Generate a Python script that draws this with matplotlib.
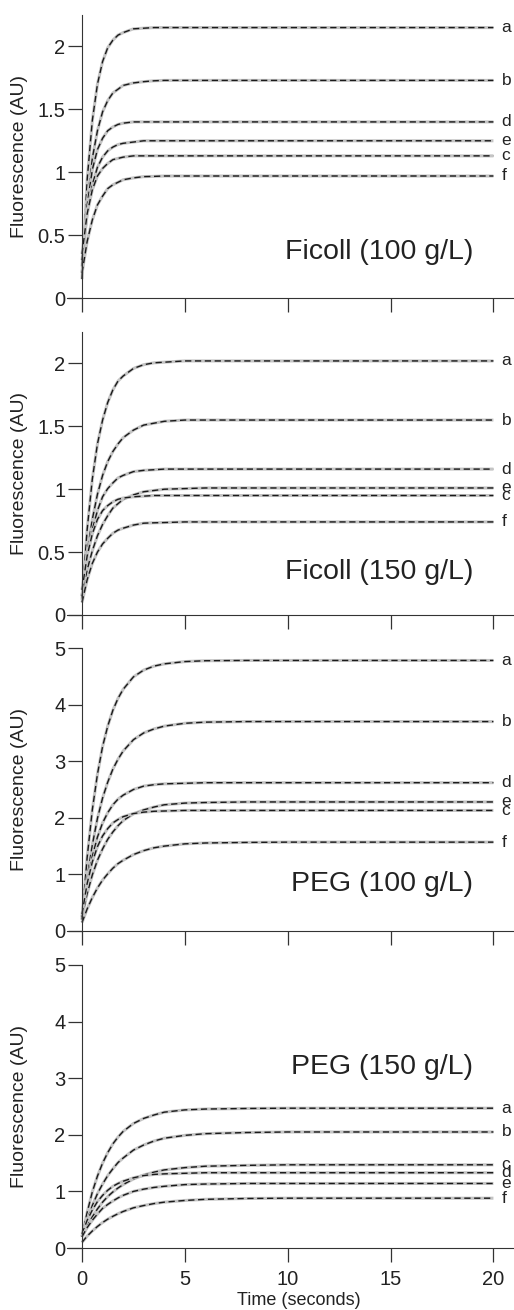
import numpy as np
import matplotlib.pyplot as plt

plt.rcParams['font.family'] = ['Liberation Sans', 'DejaVu Sans']

# sample times (s)
t = [0, 0.25, 0.5, 0.75, 1, 1.25, 1.5, 1.75, 2, 2.5, 3, 3.5, 4, 5, 6, 8, 10, 15, 20]

names = ['a', 'b', 'd', 'e', 'c', 'f']

# Ficoll 100 g/L
ficoll100 = [
    [0.15, 0.94, 1.41, 1.70, 1.88, 1.99, 2.05, 2.09, 2.11, 2.14, 2.145, 2.15, 2.15, 2.15, 2.15, 2.15, 2.15, 2.15, 2.15],
    [0.20, 0.75, 1.11, 1.33, 1.48, 1.57, 1.63, 1.66, 1.69, 1.71, 1.72, 1.727, 1.73, 1.73, 1.73, 1.73, 1.73, 1.73, 1.73],
    [0.25, 0.74, 1.02, 1.18, 1.27, 1.33, 1.36, 1.38, 1.39, 1.40, 1.40, 1.40, 1.40, 1.40, 1.40, 1.40, 1.40, 1.40, 1.40],
    [0.30, 0.67, 0.90, 1.04, 1.12, 1.17, 1.20, 1.22, 1.23, 1.24, 1.25, 1.25, 1.25, 1.25, 1.25, 1.25, 1.25, 1.25, 1.25],
    [0.35, 0.67, 0.86, 0.97, 1.03, 1.07, 1.10, 1.11, 1.12, 1.13, 1.13, 1.13, 1.13, 1.13, 1.13, 1.13, 1.13, 1.13, 1.13],
    [0.20, 0.45, 0.62, 0.74, 0.81, 0.87, 0.90, 0.92, 0.94, 0.955, 0.965, 0.967, 0.97, 0.97, 0.97, 0.97, 0.97, 0.97, 0.97],
]

# Ficoll 150 g/L
ficoll150 = [
    [0.12, 0.68, 1.08, 1.36, 1.55, 1.69, 1.79, 1.86, 1.90, 1.96, 1.99, 2.005, 2.01, 2.02, 2.02, 2.02, 2.02, 2.02, 2.02],
    [0.15, 0.50, 0.76, 0.96, 1.11, 1.22, 1.30, 1.36, 1.41, 1.47, 1.51, 1.525, 1.54, 1.55, 1.55, 1.55, 1.55, 1.55, 1.55],
    [0.15, 0.47, 0.68, 0.83, 0.94, 1.005, 1.05, 1.09, 1.11, 1.14, 1.15, 1.155, 1.16, 1.16, 1.16, 1.16, 1.16, 1.16, 1.16],
    [0.15, 0.36, 0.51, 0.63, 0.72, 0.79, 0.85, 0.885, 0.92, 0.955, 0.98, 0.99, 1.00, 1.005, 1.01, 1.01, 1.01, 1.01, 1.01],
    [0.20, 0.47, 0.645, 0.76, 0.83, 0.87, 0.90, 0.92, 0.93, 0.94, 0.945, 0.95, 0.95, 0.95, 0.95, 0.95, 0.95, 0.95, 0.95],
    [0.10, 0.28, 0.41, 0.50, 0.565, 0.61, 0.65, 0.675, 0.69, 0.715, 0.73, 0.733, 0.735, 0.74, 0.74, 0.74, 0.74, 0.74, 0.74],
]

# PEG 100 g/L
peg100 = [
    [0.20, 1.30, 2.14, 2.77, 3.26, 3.62, 3.90, 4.11, 4.27, 4.49, 4.61, 4.68, 4.72, 4.76, 4.775, 4.78, 4.78, 4.78, 4.78],
    [0.20, 0.94, 1.52, 1.99, 2.35, 2.63, 2.86, 3.035, 3.18, 3.38, 3.50, 3.57, 3.62, 3.67, 3.69, 3.70, 3.70, 3.70, 3.70],
    [0.25, 0.86, 1.32, 1.66, 1.91, 2.09, 2.23, 2.33, 2.40, 2.50, 2.56, 2.585, 2.60, 2.61, 2.62, 2.62, 2.62, 2.62, 2.62],
    [0.25, 0.66, 0.99, 1.25, 1.45, 1.62, 1.75, 1.86, 1.95, 2.07, 2.14, 2.19, 2.23, 2.26, 2.27, 2.28, 2.28, 2.28, 2.28],
    [0.30, 0.84, 1.22, 1.49, 1.68, 1.81, 1.91, 1.97, 2.02, 2.075, 2.10, 2.115, 2.12, 2.13, 2.13, 2.13, 2.13, 2.13, 2.13],
    [0.15, 0.39, 0.59, 0.76, 0.90, 1.01, 1.11, 1.19, 1.25, 1.35, 1.42, 1.47, 1.50, 1.54, 1.555, 1.565, 1.57, 1.57, 1.57],
]

# PEG 150 g/L (order a, b, c, d, e, f)
peg150_names = ['a', 'b', 'c', 'd', 'e', 'f']
peg150 = [
    [0.20, 0.63, 0.99, 1.27, 1.50, 1.685, 1.84, 1.96, 2.06, 2.20, 2.29, 2.35, 2.40, 2.44, 2.455, 2.465, 2.47, 2.47, 2.47],
    [0.20, 0.50, 0.75, 0.96, 1.13, 1.28, 1.40, 1.51, 1.59, 1.73, 1.82, 1.89, 1.94, 1.99, 2.02, 2.04, 2.05, 2.05, 2.05],
    [0.20, 0.39, 0.55, 0.69, 0.81, 0.91, 0.99, 1.06, 1.12, 1.22, 1.29, 1.34, 1.38, 1.42, 1.445, 1.46, 1.47, 1.47, 1.47],
    [0.25, 0.49, 0.67, 0.82, 0.93, 1.02, 1.09, 1.14, 1.18, 1.24, 1.28, 1.30, 1.31, 1.32, 1.33, 1.33, 1.33, 1.33, 1.33],
    [0.20, 0.36, 0.49, 0.60, 0.70, 0.77, 0.83, 0.885, 0.93, 1.00, 1.04, 1.07, 1.09, 1.12, 1.13, 1.14, 1.14, 1.14, 1.14],
    [0.10, 0.21, 0.30, 0.38, 0.45, 0.51, 0.56, 0.605, 0.645, 0.71, 0.75, 0.785, 0.81, 0.84, 0.86, 0.875, 0.88, 0.88, 0.88],
]

panels = [
    (ficoll100, names, 'Ficoll (100 g/L)', 2.25, [0, 0.5, 1, 1.5, 2], 0.138),
    (ficoll150, names, 'Ficoll (150 g/L)', 2.25, [0, 0.5, 1, 1.5, 2], 0.128),
    (peg100, names, 'PEG (100 g/L)', 5, [0, 1, 2, 3, 4, 5], 0.142),
    (peg150, peg150_names, 'PEG (150 g/L)', 5, [0, 1, 2, 3, 4, 5], 0.615),
]

W, H = 514, 1310
fig = plt.figure(figsize=(W / 100, H / 100), dpi=100)
tops = [15, 332, 648, 965]
ph = 283
txt = '#222222'

for i, (curves, labs, title, ymax, yt, ty) in enumerate(panels):
    ax = fig.add_axes([67 / W, 1 - (tops[i] + ph) / H, 447 / W, ph / H])
    for y, lab in zip(curves, labs):
        ax.plot(t, y, color='#c4c4c4', lw=2.2, solid_capstyle='butt')
        ax.plot(t, y, color='#1a1a1a', lw=1.0, linestyle=(0, (4.5, 2.6)))
        ax.text(20.4, y[-1], lab, fontsize=12.5, color=txt, ha='left', va='center')
    ax.set_xlim(-0.73, 21.0)
    ax.set_ylim(0, ymax)
    ax.spines['top'].set_visible(False)
    ax.spines['right'].set_visible(False)
    ax.spines['left'].set_position(('data', 0))
    for s in ['left', 'bottom']:
        ax.spines[s].set_linewidth(0.8)
        ax.spines[s].set_color('#333333')
    ax.set_xticks([0, 5, 10, 15, 20])
    ax.set_yticks(yt)
    ax.set_yticklabels(['%g' % v for v in yt])
    ax.tick_params(axis='both', direction='out', length=10, width=0.9,
                   color='#333333', labelsize=14.5, labelcolor=txt)
    ax.tick_params(axis='y', pad=2)
    ax.tick_params(axis='x', pad=6)
    if i < 3:
        ax.set_xticklabels([])
    else:
        ax.set_xlabel('Time (seconds)', fontsize=13, color=txt)
        ax.xaxis.set_label_coords(0.519, -0.155)
    ax.set_ylabel('Fluorescence (AU)', fontsize=14, color=txt)
    ax.yaxis.set_label_coords(-0.087, 0.5)
    ax.text(0.908, ty, title, transform=ax.transAxes, fontsize=20.5,
            color=txt, ha='right', va='baseline')

fig.savefig('out.png', dpi=100)
